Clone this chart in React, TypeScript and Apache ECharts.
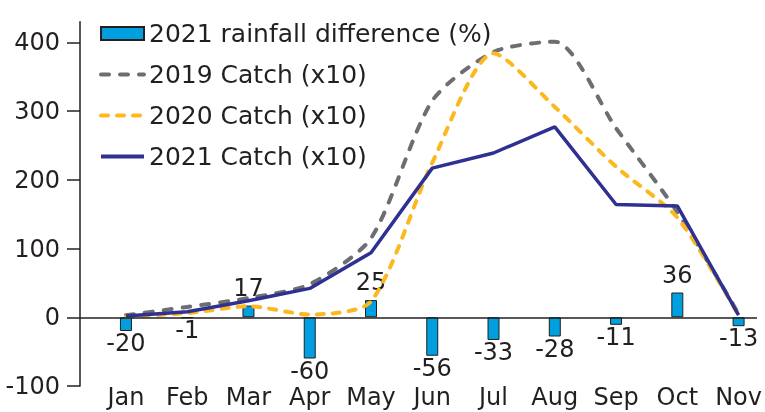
import React, { useEffect, useRef } from 'react';
import * as echarts from 'echarts';

const months = ['Jan', 'Feb', 'Mar', 'Apr', 'May', 'Jun', 'Jul', 'Aug', 'Sep', 'Oct', 'Nov'];
const rainfallDiff = [-20, -1, 17, -60, 25, -56, -33, -28, -11, 36, -13];
const catch2019 = [3, 15, 28, 48, 115, 315, 386, 401, 275, 153, 5];
const catch2020 = [1, 6, 16, 4, 23, 225, 384, 306, 219, 145, 3];
const catch2021 = [2, 8, 24, 42, 94, 217, 239, 277, 164, 162, 3];
const yTicks = [-100, 0, 100, 200, 300, 400];
const monthIdx = months.map((_, i) => i);

const names = ['2021 rainfall difference (%)', '2019 Catch (x10)', '2020 Catch (x10)', '2021 Catch (x10)'];

const TXT = '#231f20';
const FONT = 'DejaVu Sans';

export default function App() {
  const ref = useRef<HTMLDivElement>(null);
  useEffect(() => {
    const chart = echarts.init(ref.current!, null, { renderer: 'svg' });
    const pairs = (arr: number[]) => arr.map((v, i) => [i, v]);
    const lineLegend = (name: string) => ({ name, itemStyle: { opacity: 0 }, lineStyle: { width: 4 } });
    chart.setOption({
      animation: false,
      textStyle: { fontFamily: FONT, color: TXT },
      grid: { left: 80, right: 8, top: 21.7, bottom: 26, containLabel: false },
      legend: {
        orient: 'vertical',
        left: 94,
        top: 16,
        itemWidth: 43,
        itemHeight: 13,
        itemGap: 16,
        textStyle: { fontSize: 25, color: TXT, fontFamily: FONT },
        data: [
          { name: names[0], icon: 'rect' },
          lineLegend(names[1]),
          lineLegend(names[2]),
          lineLegend(names[3]),
        ],
      },
      xAxis: {
        type: 'value',
        min: -0.75,
        max: 10.3,
        axisLine: { show: false, onZero: false },
        axisTick: { show: false },
        splitLine: { show: false },
        axisLabel: {
          customValues: monthIdx,
          formatter: (v: number) => months[Math.round(v)] ?? '',
          fontSize: 24,
          lineHeight: 22,
          color: TXT,
          fontFamily: FONT,
          margin: 0,
        },
      },
      yAxis: {
        type: 'value',
        min: -100,
        max: 430,
        axisLine: { show: true, onZero: false, lineStyle: { color: TXT, width: 1.5 } },
        axisTick: { show: true, length: 13, customValues: yTicks, lineStyle: { color: TXT, width: 1.5 } },
        splitLine: { show: false },
        axisLabel: {
          customValues: yTicks,
          fontSize: 24,
          color: TXT,
          fontFamily: FONT,
          margin: 20,
        },
      },
      series: [
        {
          name: names[0],
          type: 'bar',
          barWidth: 12,
          data: rainfallDiff.map((v, i) => ({
            value: [i, v],
            label: { position: v < 0 ? 'bottom' : 'top', distance: v < 0 ? 2 : 8 },
          })),
          itemStyle: { color: '#009fdf', borderColor: TXT, borderWidth: 1 },
          label: {
            show: true,
            fontSize: 24,
            lineHeight: 20,
            color: TXT,
            fontFamily: FONT,
            formatter: (p: any) => String(p.value[1]),
          },
          markLine: {
            silent: true,
            symbol: 'none',
            label: { show: false },
            lineStyle: { color: TXT, width: 1.5, type: 'solid' },
            data: [{ yAxis: 0 }],
          },
          z: 1,
        },
        {
          name: names[1],
          type: 'line',
          symbol: 'none',
          smooth: 0.25,
          data: pairs(catch2019),
          lineStyle: { color: '#6d6e71', width: 4, type: [8, 11], cap: 'round' },
          itemStyle: { color: '#6d6e71' },
          z: 3,
        },
        {
          name: names[2],
          type: 'line',
          symbol: 'none',
          smooth: 0.25,
          data: pairs(catch2020),
          lineStyle: { color: '#fbb91f', width: 4, type: [7, 9], cap: 'round' },
          itemStyle: { color: '#fbb91f' },
          z: 3,
        },
        {
          name: names[3],
          type: 'line',
          symbol: 'none',
          data: pairs(catch2021),
          lineStyle: { color: '#2e3192', width: 3.5 },
          itemStyle: { color: '#2e3192' },
          z: 4,
        },
      ],
    });
    return () => chart.dispose();
  }, []);
  return <div ref={ref} style={{ position: 'fixed', left: 0, top: 0, width: 765, height: 412 }} />;
}
